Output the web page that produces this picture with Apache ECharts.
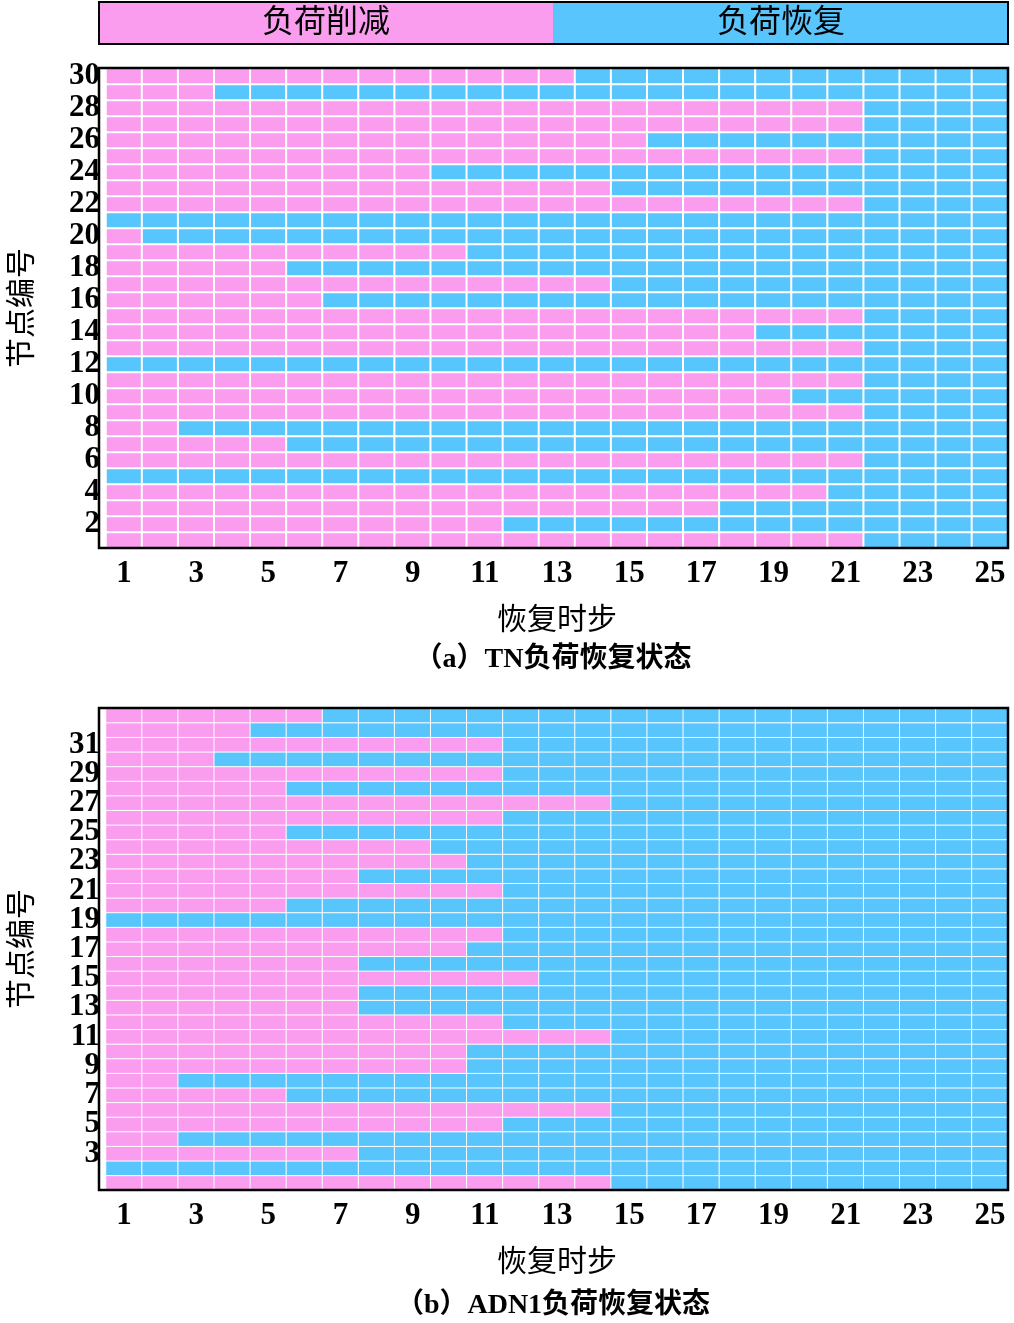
<!DOCTYPE html>
<html>
<head>
<meta charset="utf-8">
<script src="https://cdn.jsdelivr.net/npm/echarts@6/dist/echarts.min.js"></script>
<style>
  html, body { margin: 0; padding: 0; background: #fff; }
  #main { width: 1014px; height: 1323px; }
</style>
</head>
<body>
<div id="main"></div>
<script>
// time steps on the x axis
var steps = [];
for (var s = 1; s <= 25; s++) steps.push(String(s));

// TN nodes 1..30: first step at which the node's load is restored (blue)
var tnNodes = [];
for (var n = 1; n <= 30; n++) tnNodes.push(String(n));
var tnRestore = [22, 12, 18, 21, 1, 22, 6, 3, 22, 20,
                 22, 1, 22, 19, 22, 7, 15, 6, 11, 2,
                 1, 22, 15, 10, 22, 16, 22, 22, 4, 14];

// ADN1 nodes 1..33
var adnNodes = [];
for (var m = 1; m <= 33; m++) adnNodes.push(String(m));
var adnRestore = [15, 1, 8, 3, 12, 15, 6, 3, 11, 11,
                  15, 12, 8, 8, 13, 8, 11, 12, 1, 6,
                  12, 8, 11, 10, 6, 12, 15, 6, 12, 4,
                  12, 5, 7];

var PINK = '#fa9def';
var BLUE = '#58c5fd';
var FONT = '"Liberation Serif", "Noto Sans CJK SC", serif';

function cells(restore) {
    var out = [];
    restore.forEach(function (r, yi) {
        for (var xi = 0; xi < steps.length; xi++) {
            out.push([xi, yi, (xi + 1) >= r ? 1 : 0]);
        }
    });
    return out;
}

var myChart = echarts.init(document.getElementById('main'));

var axisLabelStyle = { color: '#000', fontSize: 31, fontFamily: FONT, fontWeight: 'bold' };

function frame(y, h) {
    return { type: 'rect', z: 100, shape: { x: 99, y: y, width: 909, height: h },
             style: { fill: 'none', stroke: '#000', lineWidth: 2.5 } };
}

var option = {
    animation: false,
    textStyle: { fontFamily: FONT },
    grid: [
        { left: 99, right: 6, top: 68, height: 480 },
        { left: 99, right: 6, top: 708, height: 482 }
    ],
    xAxis: [0, 1].map(function (i) {
        return {
            type: 'category', gridIndex: i, data: steps,
            axisLine: { show: false },
            axisTick: { show: false },
            axisLabel: Object.assign({ interval: 1, margin: 10 }, axisLabelStyle),
            name: '恢复时步', nameLocation: 'middle', nameGap: 58,
            nameTextStyle: { color: '#000', fontSize: 30, fontFamily: FONT }
        };
    }),
    yAxis: [
        {
            type: 'category', gridIndex: 0, data: tnNodes,
            axisLine: { show: false },
            axisTick: { show: false },
            axisLabel: Object.assign({ interval: function (idx) { return idx % 2 === 1; }, margin: 6 }, axisLabelStyle),
            name: '节点编号', nameLocation: 'middle', nameGap: 68, nameRotate: 90,
            nameTextStyle: { color: '#000', fontSize: 30, fontFamily: FONT }
        },
        {
            type: 'category', gridIndex: 1, data: adnNodes,
            axisLine: { show: false },
            axisTick: { show: false },
            axisLabel: Object.assign({ interval: 1, margin: 6 }, axisLabelStyle),
            name: '节点编号', nameLocation: 'middle', nameGap: 68, nameRotate: 90,
            nameTextStyle: { color: '#000', fontSize: 30, fontFamily: FONT }
        }
    ],
    visualMap: {
        show: false, type: 'piecewise', seriesIndex: [0, 1], dimension: 2,
        pieces: [{ value: 0, color: PINK }, { value: 1, color: BLUE }]
    },
    series: [
        {
            type: 'heatmap', xAxisIndex: 0, yAxisIndex: 0, data: cells(tnRestore),
            itemStyle: { borderColor: '#fff', borderWidth: 2 }
        },
        {
            type: 'heatmap', xAxisIndex: 1, yAxisIndex: 1, data: cells(adnRestore),
            itemStyle: { borderColor: '#fff', borderWidth: 1 }
        }
    ],
    graphic: [
        frame(68, 480),
        frame(708, 482),
        { type: 'rect', shape: { x: 99, y: 2, width: 454, height: 42 }, style: { fill: PINK } },
        { type: 'rect', shape: { x: 553, y: 2, width: 455, height: 42 }, style: { fill: BLUE } },
        { type: 'rect', shape: { x: 99, y: 2, width: 909, height: 42 }, style: { fill: 'none', stroke: '#000', lineWidth: 2 } },
        { type: 'text', x: 326, y: 24, style: { text: '负荷削减', font: '32px ' + FONT, fill: '#000', align: 'center', verticalAlign: 'middle' } },
        { type: 'text', x: 781, y: 24, style: { text: '负荷恢复', font: '32px ' + FONT, fill: '#000', align: 'center', verticalAlign: 'middle' } },
        { type: 'text', x: 553, y: 660, style: { text: '（a）TN负荷恢复状态', font: 'bold 28px ' + FONT, fill: '#000', align: 'center', verticalAlign: 'middle' } },
        { type: 'text', x: 553, y: 1306, style: { text: '（b）ADN1负荷恢复状态', font: 'bold 28px ' + FONT, fill: '#000', align: 'center', verticalAlign: 'middle' } }
    ]
};

myChart.setOption(option);
</script>
</body>
</html>
